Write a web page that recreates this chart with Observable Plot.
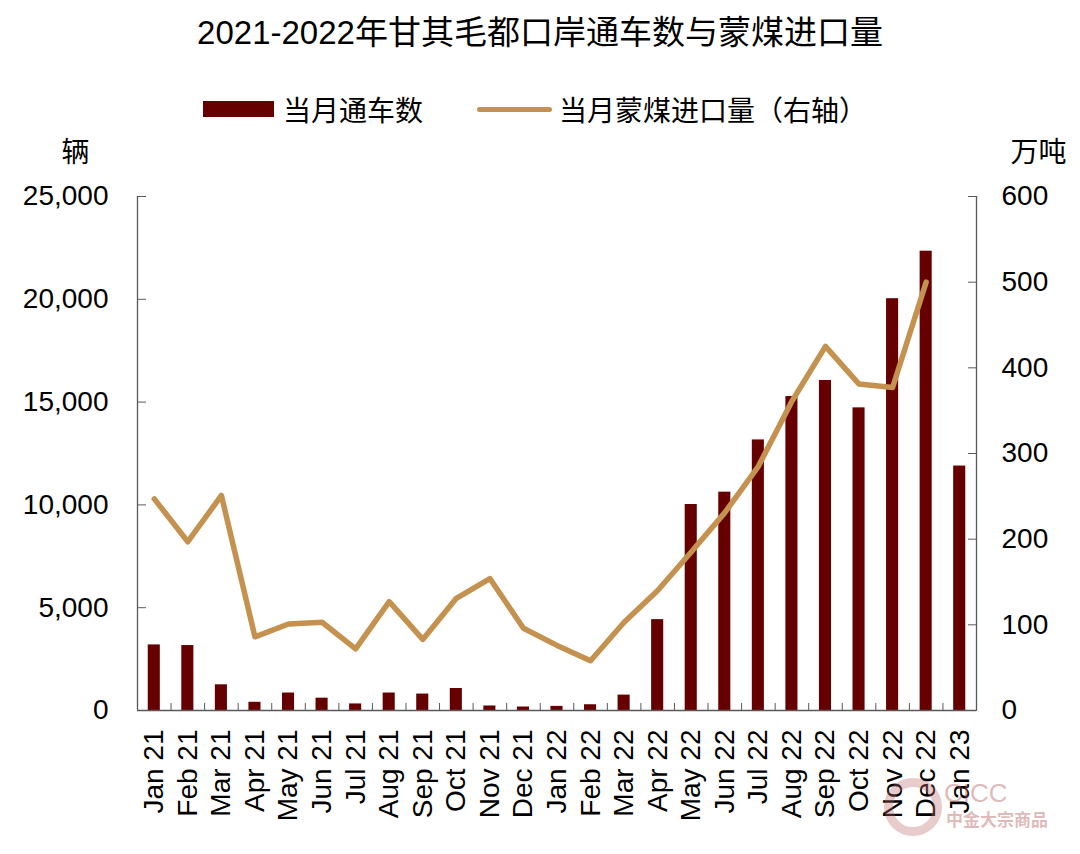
<!DOCTYPE html>
<html>
<head>
<meta charset="utf-8">
<script src="https://cdn.jsdelivr.net/npm/d3@7"></script>
<script src="https://cdn.jsdelivr.net/npm/@observablehq/plot@0.6"></script>
<style>
  html, body { margin: 0; padding: 0; background: #fff; }
  body { width: 1080px; height: 854px; position: relative; overflow: hidden;
         font-family: "Liberation Sans", Arial, "Noto Sans CJK SC", sans-serif; }
  #title { height: 66px; line-height: 66px; text-align: center; font-size: 33px; color: #000;
           font-family: "Liberation Sans", "Noto Sans CJK SC", sans-serif; white-space: nowrap; }
  #legend { height: 64px; box-sizing: border-box; padding-top: 22px; padding-left: 203px;
            display: flex; align-items: center; font-size: 28px; color: #000;
            font-family: "Noto Sans CJK SC", sans-serif; }
  #legend .item { display: flex; align-items: center; height: 40px; }
  .sw-bar { width: 71px; height: 16px; background: #660000; margin-right: 9px; }
  .sw-line { width: 75px; height: 5px; border-radius: 3px; background: #C4914E; margin-right: 7px; }
  .wm { position: absolute; color: rgba(185, 95, 95, 0.45); font-family: "Liberation Sans", "Noto Sans CJK SC", sans-serif; }
  .wmc { position: absolute; left: 884px; top: 778px; width: 40px; height: 40px; border-radius: 50%;
         border: 9px solid rgba(190, 110, 110, 0.35); }
</style>
</head>
<body>
<div id="title">2021-2022年甘其毛都口岸通车数与蒙煤进口量</div>
<div id="legend">
  <div class="item"><div class="sw-bar"></div><span>当月通车数</span></div>
  <div class="item" style="margin-left:54px"><div class="sw-line"></div><span>当月蒙煤进口量（右轴）</span></div>
</div>
<div id="chart"></div>
<div class="wmc"></div>
<div class="wm" style="left:944px; top:778px; font-size:26px;">CICC</div>
<div class="wm" style="left:946px; top:806px; font-size:17px; font-weight:bold;">中金大宗商品</div>
<script>
const months = ["Jan 21","Feb 21","Mar 21","Apr 21","May 21","Jun 21","Jul 21","Aug 21","Sep 21","Oct 21","Nov 21","Dec 21",
                "Jan 22","Feb 22","Mar 22","Apr 22","May 22","Jun 22","Jul 22","Aug 22","Sep 22","Oct 22","Nov 22","Dec 22","Jan 23"];
// 当月通车数（辆）
const trucks = [3190, 3160, 1250, 400, 850, 600, 320, 850, 800, 1070, 220, 170,
                200, 280, 750, 4420, 10020, 10620, 13160, 15270, 16050, 14720, 20030, 22340, 11890];
// 当月蒙煤进口量（万吨，右轴）; Jan 23 not shown
const coalMonths = months.slice(0, 24);
const coal = [247, 197, 251, 86, 101, 103, 72, 127, 83, 131, 154, 96,
              76, 58, 103, 140, 185, 231, 285, 361, 425, 381, 377, 500];
const leftTicks = [0, 5000, 10000, 15000, 20000, 25000];
const rightTicks = [0, 100, 200, 300, 400, 500, 600];
const leftMax = 25000, rightMax = 600;
const toLeft = v => v * leftMax / rightMax;

const barData = months.map((m, i) => ({month: m, value: trucks[i]}));
const lineData = coalMonths.map((m, i) => ({month: m, value: toLeft(coal[i])}));

const W = 1080, H = 724, mL = 137, mR = 104, mT = 66, mB = 144;
const halfStep = (W - mL - mR) / months.length / 2;
const axisColor = "#595959";
const fontSize = 28;

const chart = Plot.plot({
  width: W, height: H,
  marginLeft: mL, marginRight: mR, marginTop: mT, marginBottom: mB,
  style: {fontFamily: "'Liberation Sans', Arial, sans-serif", fontSize: fontSize + "px", color: "#000", background: "#fff", overflow: "visible"},
  x: {type: "band", domain: months, paddingInner: 0.64, paddingOuter: 0.32, align: 0.5, round: false},
  y: {domain: [0, leftMax]},
  marks: [
    Plot.barY(barData, {x: "month", y: "value", fill: "#660000"}),
    Plot.lineY(lineData, {x: "month", y: "value", stroke: "#C4914E", strokeWidth: 5.5, strokeLinejoin: "round", strokeLinecap: "round"}),
    // axis lines
    Plot.ruleY([0], {stroke: axisColor, strokeWidth: 1.3}),
    Plot.ruleX([months[0]], {y1: 0, y2: leftMax, dx: -halfStep, stroke: axisColor, strokeWidth: 1.3}),
    Plot.ruleX([months[months.length - 1]], {y1: 0, y2: leftMax, dx: halfStep, stroke: axisColor, strokeWidth: 1.3}),
    // left axis
    Plot.axisY({anchor: "left", ticks: leftTicks, tickFormat: d3.format(","), tickSize: 9, dx: 9, tickPadding: 29,
                stroke: axisColor, fill: "#000", fontSize: fontSize, label: null}),
    // right axis
    Plot.axisY({anchor: "right", ticks: rightTicks.map(toLeft), tickFormat: d => String(Math.round(d * rightMax / leftMax)),
                tickSize: 9, dx: -9, tickPadding: 25, stroke: axisColor, fill: "#000", fontSize: fontSize, label: null}),
    // x labels
    Plot.axisX({anchor: "bottom", tickRotate: -90, tickSize: 0, tickPadding: 19, fill: "#000", fontSize: fontSize, label: null}),
    // x tick marks at category boundaries
    Plot.axisX({anchor: "bottom", ticks: months.slice(0, months.length - 1), tickSize: 7, dy: -7, dx: halfStep,
                tickFormat: () => "", stroke: axisColor, label: null}),
    // unit labels
    Plot.text(["辆"], {frameAnchor: "top-left", dx: -62, dy: -54, fontSize: fontSize, fill: "#000",
                       fontFamily: "'Noto Sans CJK SC', sans-serif", textAnchor: "middle"}),
    Plot.text(["万吨"], {frameAnchor: "top-right", dx: 62, dy: -54, fontSize: fontSize, fill: "#000",
                        fontFamily: "'Noto Sans CJK SC', sans-serif", textAnchor: "middle"})
  ]
});
document.getElementById("chart").appendChild(chart);
</script>
</body>
</html>
